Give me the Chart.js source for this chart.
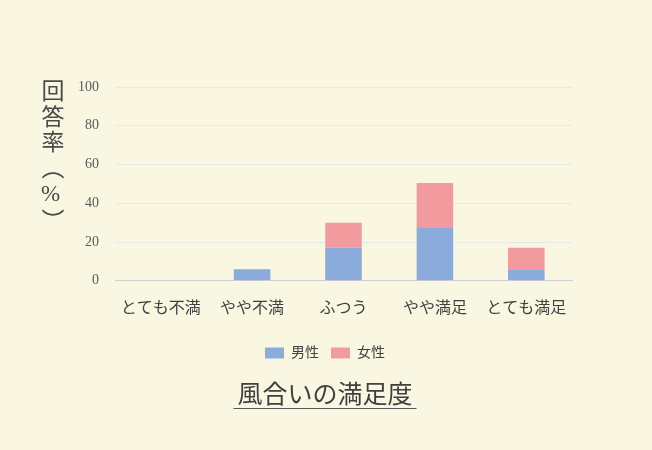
<!DOCTYPE html>
<html lang="ja">
<head>
<meta charset="utf-8">
<script src="https://cdn.jsdelivr.net/npm/chart.js@4/dist/chart.umd.min.js"></script>
<style>
  html, body { margin: 0; padding: 0; background: #f9f7e1; }
  #wrap { position: relative; width: 652px; height: 450px; }
  #yTitle {
    position: absolute; left: 39px; top: 79px;
    writing-mode: vertical-rl; text-orientation: upright;
    font-family: "Liberation Serif", "Noto Sans CJK JP", serif;
    font-size: 23px; color: #4a4a4a; letter-spacing: 2.5px; line-height: 1;
  }
</style>
</head>
<body>
<div id="wrap">
  <canvas id="chart" width="652" height="450"></canvas>
  <div id="yTitle">回答率（%）</div>
</div>
<script>
// データ
const categories = ['とても不満', 'やや不満', 'ふつう', 'やや満足', 'とても満足'];
const male = [0, 6, 17, 27.3, 6];
const female = [0, 0, 13, 23.2, 11];
const seriesNames = ['男性', '女性'];
const chartTitle = '風合いの満足度';

const FONT = '"Liberation Serif", "Noto Sans CJK JP", serif';
const TITLE_SIZE = 25;

// タイトルに下線を引く
const underlinePlugin = {
  id: 'titleUnderline',
  afterDraw(chart) {
    const tb = chart.titleBlock;
    if (!tb) return;
    const ctx = chart.ctx;
    ctx.save();
    ctx.font = TITLE_SIZE + 'px ' + FONT;
    const w = ctx.measureText(chartTitle).width;
    const cx = (tb.left + tb.right) / 2;
    const y = Math.round(tb.bottom - 3);
    ctx.strokeStyle = '#555';
    ctx.lineWidth = 1;
    ctx.beginPath();
    ctx.moveTo(cx - w / 2 - 4, y + 0.5);
    ctx.lineTo(cx + w / 2 + 4, y + 0.5);
    ctx.stroke();
    ctx.restore();
  }
};

new Chart(document.getElementById('chart'), {
  type: 'bar',
  data: {
    labels: categories,
    datasets: [
      { label: seriesNames[0], data: male, backgroundColor: '#8aabdb' },
      { label: seriesNames[1], data: female, backgroundColor: '#f29b9f' }
    ]
  },
  options: {
    responsive: false,
    animation: false,
    categoryPercentage: 0.8,
    barPercentage: 0.5,
    layout: { padding: { top: 87, left: 78, right: 80, bottom: 39 } },
    plugins: {
      legend: {
        position: 'bottom',
        labels: {
          boxWidth: 19, boxHeight: 11, padding: 12,
          color: '#404040',
          font: { family: FONT, size: 14 }
        }
      },
      title: {
        display: true,
        position: 'bottom',
        text: chartTitle,
        color: '#404040',
        font: { family: FONT, size: TITLE_SIZE, weight: 'normal' },
        padding: { top: 11, bottom: 0 }
      },
      tooltip: { enabled: false }
    },
    scales: {
      x: {
        stacked: true,
        grid: { display: false },
        border: { color: '#d0d0d0' },
        ticks: { color: '#404040', font: { family: FONT, size: 16 }, padding: 10 },
        afterFit(scale) { scale.height += 6; }
      },
      y: {
        stacked: true,
        min: 0, max: 100,
        grid: { color: '#e8e8e8', drawTicks: false },
        border: { display: false },
        ticks: { stepSize: 20, color: '#595959', font: { family: FONT, size: 14 }, padding: 16 },
        afterFit(scale) { scale.width = 37; }
      }
    }
  },
  plugins: [underlinePlugin]
});
</script>
</body>
</html>
